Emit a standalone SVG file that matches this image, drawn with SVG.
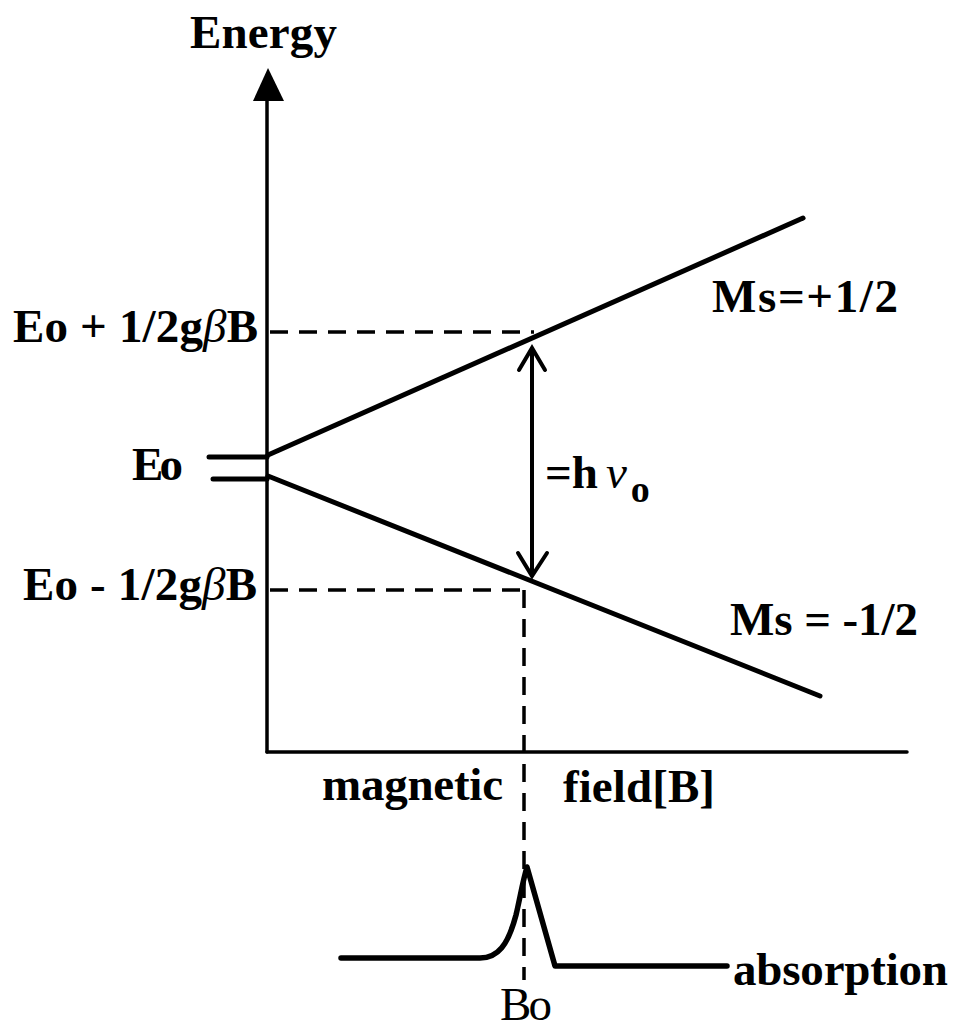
<svg xmlns="http://www.w3.org/2000/svg" width="957" height="1028" viewBox="0 0 957 1028">
<style>
.t{font-family:"Liberation Serif","Times New Roman",serif;font-weight:bold;font-size:47px;fill:#000}
.r{font-family:"Liberation Serif","Times New Roman",serif;font-size:47px;fill:#000}
.ln{stroke:#000;fill:none;stroke-linecap:round}
.dash{stroke:#000;stroke-width:3.5;stroke-dasharray:18 11;fill:none}
</style>
<rect width="957" height="1028" fill="#fff"/>
<g id="axes">
<line class="ln" x1="267" y1="98" x2="267" y2="752" stroke-width="3.5"/>
<line class="ln" x1="267" y1="752" x2="907" y2="752" stroke-width="3.5"/>
<polygon points="268,68 253,101 284,101" fill="#000"/>
<text class="t" x="190" y="48" textLength="147" lengthAdjust="spacing">Energy</text>
<text class="t" x="322" y="800" textLength="181" lengthAdjust="spacing">magnetic</text>
<text class="t" x="563" y="802" textLength="152" lengthAdjust="spacing">field[B]</text>
</g>
<g id="eo">
<line class="ln" x1="209" y1="457" x2="267" y2="457" stroke-width="5"/>
<line class="ln" x1="213" y1="479" x2="267" y2="479" stroke-width="5"/>
<text class="t" x="132" y="480" textLength="51" lengthAdjust="spacing">Eo</text>
</g>
<g id="upper-level">
<line class="ln" x1="268" y1="455" x2="803" y2="218" stroke-width="5"/>
<text class="t" x="712" y="312" textLength="186" lengthAdjust="spacing">Ms=+1/2</text>
<text class="t" x="13" y="342" textLength="245" lengthAdjust="spacing">Eo + 1/2g<tspan font-style="italic" font-weight="normal">β</tspan>B</text>
</g>
<g id="lower-level">
<line class="ln" x1="268" y1="476" x2="820" y2="696" stroke-width="5"/>
<text class="t" x="730" y="635" textLength="188" lengthAdjust="spacing">Ms = -1/2</text>
<text class="t" x="23" y="600" textLength="234" lengthAdjust="spacing">Eo - 1/2g<tspan font-style="italic" font-weight="normal">β</tspan>B</text>
</g>
<g id="connectors">
<line class="dash" x1="270" y1="332" x2="534" y2="332"/>
<line class="dash" x1="270" y1="590" x2="530" y2="590"/>
<line class="dash" x1="524" y1="590" x2="524" y2="980"/>
<line class="ln" x1="532" y1="349" x2="532" y2="575" stroke-width="4"/>
<polyline class="ln" points="519,370 532,348 545,370" stroke-width="4"/>
<polyline class="ln" points="518,553 532,576 547,553" stroke-width="4"/>
</g>
<g id="transition">
<text class="t" x="545" y="488">=h<tspan font-style="italic" font-weight="normal" dx="8">ν</tspan><tspan font-size="38" dy="14" dx="4">o</tspan></text>
</g>
<g id="absorption">
<path class="ln" d="M341,958 L480,958 C498,958 508,945 516,915 C520,898 523,880 527,867 L555,966 L727,966" stroke-width="5.5" stroke-linejoin="round"/>
<text class="t" x="733" y="985" textLength="215" lengthAdjust="spacing">absorption</text>
<text class="r" x="500" y="1020" textLength="52" lengthAdjust="spacing">Bo</text>
</g>
</svg>
